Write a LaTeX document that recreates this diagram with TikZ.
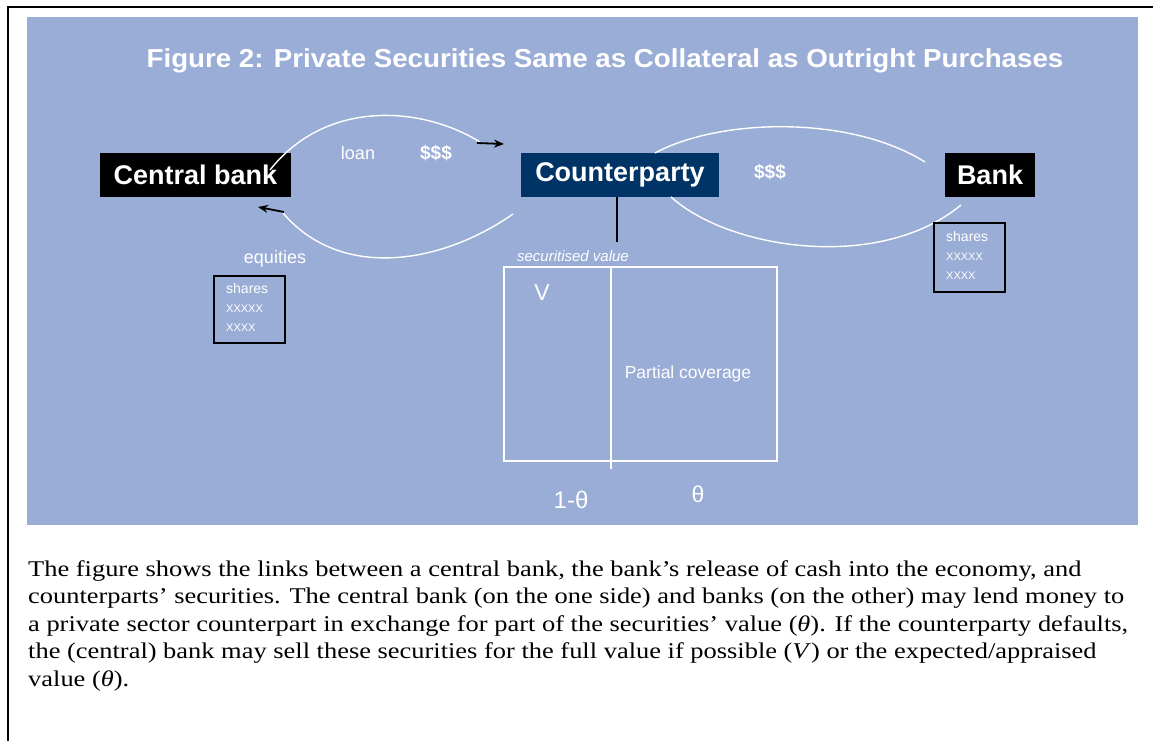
\documentclass[tikz,border=0pt]{standalone}
\usepackage{fontspec}
\setmainfont{Liberation Serif}[FakeStretch=1.175]
\setsansfont{Liberation Sans}
\newfontfamily\titlefont{Liberation Sans}[FakeStretch=1.065]
\usetikzlibrary{arrows.meta}
\definecolor{panel}{RGB}{154,173,214}
\definecolor{navy}{RGB}{0,51,102}
\begin{document}
\begin{tikzpicture}[x=1pt,y=-1pt,
  actor/.style={fill=black, text=white, font=\sffamily\bfseries\fontsize{27}{30}\selectfont, minimum height=44pt, inner sep=0pt},
  lbl/.style={text=white, font=\sffamily\fontsize{18}{20}\selectfont, inner sep=0pt},
  flow/.style={draw=white, line width=1.4pt},
  arr/.style={draw=black, line width=1.8pt, -{Stealth[length=10pt,width=8pt]}},
  sharebox/.style={draw=black, line width=2pt, minimum width=71pt, minimum height=67pt, inner sep=0pt},
  sharetxt/.style={text=white, font=\sffamily\fontsize{14}{19}\selectfont, align=left, inner sep=0pt, anchor=north west}]
\useasboundingbox (0,0) rectangle (1153,741);
% outer frame
\coordinate (fbl) at (8,745);
\coordinate (ftl) at (8,7);
\coordinate (ftr) at (1160,7);
\draw[line width=2pt] (fbl) -- (ftl) -- (ftr);
% panel
\fill[panel] (27,17) rectangle (1138,525);
% title
\node[text=white, font=\titlefont\bfseries\fontsize{26}{30}\selectfont, inner sep=0pt] (title) at (605,61)
  {Figure 2: Private Securities Same as Collateral as Outright Purchases};
% actor boxes
\node[actor, minimum width=191pt] (cb) at (195.5,175) {Central bank};
\node[actor, fill=navy, minimum width=198pt] (cp) at (620,175) {Counterparty};
\node[actor, minimum width=90pt] (bk) at (990,175) {Bank};
% loan curve
\coordinate (l0) at (270,170);
\coordinate (l1) at (480,142);
\draw[flow] (l0) .. controls (325,100) and (420,105) .. (l1);
\coordinate (la0) at (477,143);
\coordinate (la1) at (504,144);
\draw[arr] (la0) -- (la1);
% equities curve
\coordinate (e0) at (513,214);
\coordinate (e1) at (283,213);
\draw[flow] (e0) .. controls (440,265) and (340,280) .. (e1);
\coordinate (ea0) at (284,212);
\coordinate (ea1) at (258,207);
\draw[arr] (ea0) -- (ea1);
% right curves
\coordinate (r0) at (655,153);
\coordinate (r1) at (925,162);
\draw[flow] (r0) .. controls (720,118) and (850,115) .. (r1);
\coordinate (s0) at (671,197);
\coordinate (s1) at (961,205);
\draw[flow] (s0) .. controls (730,250) and (880,272) .. (s1);
% labels
\node[lbl] (loan) at (358,153) {loan};
\node[lbl, font=\sffamily\bfseries\fontsize{19}{20}\selectfont] (d1) at (436,153) {\$\$\$};
\node[lbl, font=\sffamily\bfseries\fontsize{19}{20}\selectfont] (d2) at (770,172) {\$\$\$};
\node[lbl] (eq) at (275,259) {equities};
% securitised value
\coordinate (sv) at (617,242);
\draw[line width=1.5pt] (cp.south -| sv) -- (sv);
\node[lbl, font=\sffamily\itshape\fontsize{15}{16}\selectfont] (svl) at (573,256) {securitised value};
\coordinate (rq0) at (504,267);
\coordinate (rq1) at (777,461);
\draw[white, line width=1.4pt] (rq0) rectangle (rq1);
\coordinate (dv0) at (611,267);
\coordinate (dv1) at (611,469);
\draw[white, line width=1.4pt] (dv0) -- (dv1);
\node[lbl, font=\sffamily\fontsize{23}{25}\selectfont] (V) at (542,293) {V};
\node[lbl, font=\sffamily\fontsize{17.5}{20}\selectfont] (pc) at (688,374) {Partial coverage};
\node[lbl, font=\sffamily\fontsize{24}{26}\selectfont] (omt) at (571,500) {1-θ};
\node[lbl, font=\sffamily\fontsize{23}{25}\selectfont] (th) at (698,494) {θ};
% shares boxes
\node[sharebox] (shL) at (249.5,309.5) {};
\node[sharetxt] (shLt) at (226,283) {shares\\{\fontsize{11}{19}\selectfont XXXXX}\\{\fontsize{11}{19}\selectfont XXXX}};
\node[sharebox, minimum height=69pt] (shR) at (969.5,257.5) {};
\node[sharetxt] (shRt) at (946,231) {shares\\{\fontsize{11}{19}\selectfont XXXXX}\\{\fontsize{11}{19}\selectfont XXXX}};
% caption
\node[anchor=north west, align=left, inner sep=0pt, font=\fontsize{22.5}{27.5}\selectfont] (cap) at (28,560)
 {The figure shows the links between a central bank, the bank’s release of cash into the economy, and\\
  counterparts’ securities. The central bank (on the one side) and banks (on the other) may lend money to\\
  a private sector counterpart in exchange for part of the securities’ value (\textit{θ}). If the counterparty defaults,\\
  the (central) bank may sell these securities for the full value if possible (\textit{V}) or the expected/appraised\\
  value (\textit{θ}).};
\end{tikzpicture}
\end{document}
